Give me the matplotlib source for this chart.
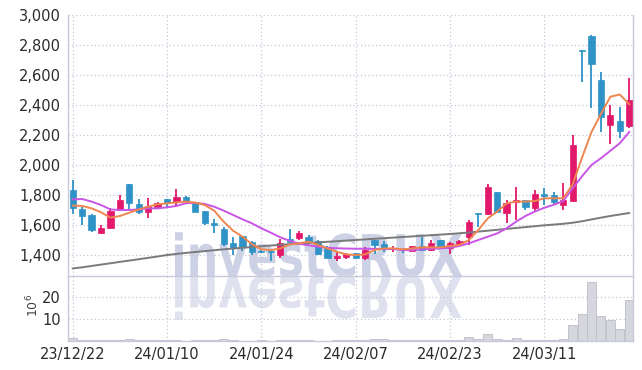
import numpy as np
import matplotlib
matplotlib.use("Agg")
import matplotlib.pyplot as plt
from matplotlib.textpath import TextPath
from matplotlib.patches import PathPatch
from matplotlib.transforms import Affine2D
from matplotlib.font_manager import FontProperties

# daily OHLC (KRW)
opens = [1833, 1704, 1667, 1549, 1580, 1700, 1873, 1740, 1684, 1718,
         1771, 1751, 1789, 1749, 1693, 1616, 1576, 1478, 1527, 1489,
         1429, 1427, 1400, 1507, 1516, 1522, 1493, 1444, 1380, 1387,
         1411, 1380, 1500, 1471, 1438, 1440, 1427, 1460, 1433, 1500,
         1444, 1473, 1522, 1680, 1671, 1818, 1682, 1751, 1767, 1711,
         1804, 1800, 1733, 1760, 2767, 2860, 2567, 2267, 2293, 2262]
highs = [1900, 1720, 1673, 1598, 1711, 1800, 1875, 1771, 1778, 1751,
         1773, 1840, 1795, 1755, 1695, 1640, 1589, 1522, 1530, 1495,
         1431, 1429, 1504, 1571, 1560, 1533, 1500, 1460, 1418, 1411,
         1415, 1456, 1502, 1493, 1462, 1444, 1462, 1522, 1500, 1502,
         1484, 1500, 1633, 1682, 1873, 1822, 1767, 1851, 1770, 1833,
         1844, 1818, 1878, 2200, 2770, 2867, 2618, 2400, 2389, 2578]
lows = [1671, 1600, 1551, 1540, 1573, 1696, 1700, 1673, 1644, 1704,
        1711, 1718, 1750, 1685, 1600, 1549, 1462, 1400, 1429, 1400,
        1414, 1360, 1378, 1467, 1500, 1490, 1400, 1378, 1362, 1373,
        1376, 1367, 1404, 1418, 1422, 1411, 1425, 1430, 1425, 1440,
        1404, 1456, 1467, 1589, 1665, 1680, 1611, 1633, 1700, 1689,
        1733, 1733, 1700, 1755, 2556, 2378, 2218, 2138, 2182, 2250]
closes = [1716, 1662, 1567, 1578, 1696, 1767, 1744, 1684, 1727, 1744,
          1749, 1784, 1760, 1689, 1611, 1600, 1473, 1444, 1451, 1422,
          1418, 1418, 1478, 1489, 1544, 1495, 1404, 1382, 1396, 1404,
          1380, 1433, 1467, 1442, 1449, 1436, 1460, 1436, 1478, 1444,
          1478, 1496, 1622, 1673, 1856, 1689, 1749, 1767, 1722, 1804,
          1796, 1756, 1767, 2133, 2760, 2673, 2322, 2333, 2227, 2433]

# moving averages as drawn
ma_short = [1729, 1727, 1711, 1685, 1649, 1660, 1682, 1704, 1722, 1738,
            1744, 1751, 1756, 1749, 1733, 1696, 1622, 1562, 1522, 1473,
            1438, 1433, 1444, 1470, 1478, 1489, 1467, 1444, 1422, 1404,
            1400, 1404, 1433, 1444, 1444, 1438, 1444, 1451, 1451, 1451,
            1460, 1467, 1500, 1567, 1644, 1689, 1744, 1756, 1756, 1760,
            1778, 1778, 1778, 1870, 2050, 2220, 2340, 2455, 2470, 2405]
ma_mid = [1771, 1773, 1756, 1733, 1704, 1700, 1700, 1704, 1711, 1711,
          1718, 1727, 1745, 1748, 1740, 1722, 1696, 1667, 1638, 1611,
          1578, 1549, 1518, 1495, 1475, 1465, 1455, 1448, 1445, 1443,
          1442, 1442, 1441, 1440, 1440, 1433, 1433, 1438, 1442, 1444,
          1449, 1460, 1478, 1500, 1522, 1544, 1578, 1622, 1660, 1690,
          1715, 1735, 1760, 1845, 1925, 2000, 2045, 2095, 2145, 2220]
ma_long = [1310, 1318, 1327, 1336, 1345, 1354, 1363, 1372, 1381, 1390,
           1400, 1407, 1414, 1420, 1426, 1432, 1438, 1443, 1448, 1453,
           1458, 1463, 1468, 1472, 1476, 1480, 1484, 1488, 1492, 1496,
           1500, 1504, 1508, 1512, 1516, 1520, 1524, 1528, 1532, 1536,
           1540, 1545, 1550, 1556, 1562, 1568, 1574, 1580, 1586, 1592,
           1598, 1603, 1608, 1615, 1625, 1637, 1649, 1660, 1670, 1680]

# volume in millions of shares
volume = [1.2, 0.4, 0.3, 0.3, 0.4, 0.5, 0.7, 0.5, 0.4, 0.3,
          0.3, 0.3, 0.2, 0.3, 0.3, 0.3, 0.8, 0.3, 0.2, 0.2,
          0.3, 0.2, 0.4, 0.3, 0.3, 0.3, 0.2, 0.2, 0.3, 0.4,
          0.3, 0.4, 0.8, 0.7, 0.3, 0.3, 0.4, 0.6, 0.6, 0.6,
          0.6, 0.3, 1.7, 0.9, 3.2, 0.8, 0.6, 1.2, 0.4, 0.4,
          0.4, 0.5, 0.8, 7.3, 12.3, 26.7, 11.4, 9.5, 5.3, 18.6]

tick_pos = [0, 10, 20, 30, 40, 50]
tick_labels = ["23/12/22", "24/01/10", "24/01/24", "24/02/07", "24/02/23", "24/03/11"]
price_ticks = [1400, 1600, 1800, 2000, 2200, 2400, 2600, 2800, 3000]
vol_ticks = [10, 20]

UP = "#e2196a"
DOWN = "#2f93c7"
GRID = "#c4c6da"
SPINE = "#c8c9dc"
TXT = "#2b2b2b"
tick_font = ["Liberation Sans Narrow", "DejaVu Sans"]

fig = plt.figure(figsize=(6.42, 3.70), dpi=100)

# watermark layer behind the chart
bg = fig.add_axes([0, 0, 1, 1], zorder=0)
bg.set_xlim(0, 642)
bg.set_ylim(0, 370)
bg.axis("off")
tp = TextPath((0, 0), "investCRUX", size=1, prop=FontProperties(family="DejaVu Sans", weight="bold"))
ext = tp.get_extents()
sx = (462 - 175) / ext.width
sy = 42 / 0.73
top_tr = Affine2D().translate(-ext.x0, 0).scale(sx, sy).translate(175, 370 - 276)
bot_tr = Affine2D().translate(-ext.x0, 0).scale(sx, -sy).translate(175, 370 - 276)
bg.add_patch(PathPatch(top_tr.transform_path(tp), facecolor="#ccd1e5", edgecolor="none"))
bg.add_patch(PathPatch(bot_tr.transform_path(tp), facecolor="#dfe2ee", edgecolor="none"))

left, right = 68 / 642, 633 / 642
ax = fig.add_axes([left, 1 - 276 / 370, right - left, (276 - 15) / 370], zorder=1)
axv = fig.add_axes([left, 1 - 341 / 370, right - left, (341 - 276) / 370], zorder=1, sharex=ax)
for a in (ax, axv):
    a.set_facecolor("none")
    for s in a.spines.values():
        s.set_color(SPINE)
        s.set_linewidth(1)
    a.spines["top"].set_visible(False)
    a.grid(True, color=GRID, linestyle=(0, (1, 2)), linewidth=0.9)
    a.set_axisbelow(True)
    a.tick_params(length=0, colors=TXT, labelsize=10.5)

x = np.arange(len(opens))
o = np.array(opens)
c = np.array(closes)
h = np.array(highs)
l = np.array(lows)
colors = np.where(c >= o, UP, DOWN)

ax.vlines(x, l, h, colors=colors, linewidth=1.3, zorder=2)
ax.bar(x, np.abs(c - o), bottom=np.minimum(o, c), width=0.66, color=colors,
       edgecolor=colors, linewidth=0.5, zorder=3)

ax.plot(x, ma_long, color="#7a7a7a", linewidth=1.4, zorder=4)
ax.plot(x, ma_mid, color="#c955e6", linewidth=1.4, zorder=4)
ax.plot(x, ma_short, color="#ef8650", linewidth=1.4, zorder=5)

ax.set_ylim(1260, 3000)
ax.set_yticks(price_ticks)
ax.set_yticklabels([f"{v:,}" for v in price_ticks], family=tick_font)
ax.set_xlim(-0.5, 59.4)
ax.set_xticks(tick_pos)
ax.tick_params(axis="x", labelbottom=False)

axv.bar(x, volume, width=0.95, color="#d6d6df", edgecolor="#bdbdca", linewidth=0.6, zorder=2)
axv.set_ylim(0, 29.5)
axv.set_yticks(vol_ticks)
axv.set_yticklabels([str(v) for v in vol_ticks], family=tick_font)
axv.set_xticks(tick_pos)
axv.set_xticklabels(tick_labels, family=tick_font)
axv.tick_params(axis="x", pad=4)
axv.tick_params(axis="y", pad=5)
ax.tick_params(axis="y", pad=5)

fig.text(33 / 642, 1 - 305 / 370, r"$10^6$", rotation=90, ha="center", va="center",
         fontsize=9, color="#444444")

fig.savefig("out.png", dpi=100)
